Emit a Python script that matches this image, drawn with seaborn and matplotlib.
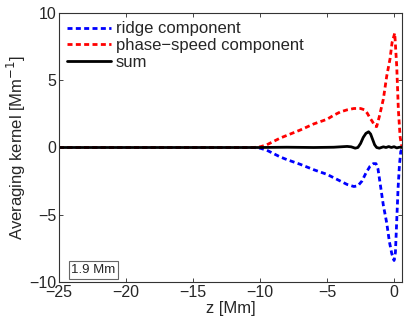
import numpy as np
import pandas as pd
import matplotlib
matplotlib.use('Agg')
import matplotlib.pyplot as plt
import seaborn as sns

# values
z_ridge = [-25, -20, -15, -10.5, -10, -9.5, -9, -8.5, -8, -7, -6, -5, -4.5, -4, -3.5, -3, -2.7,
           -2.4, -2.1, -1.8, -1.55, -1.35, -1.2, -1.05, -0.8, -0.55, -0.35, -0.17, 0.0,
           0.1, 0.2, 0.3, 0.4, 0.5, 0.6]
k_ridge = [0, 0, 0, 0, -0.05, -0.2, -0.45, -0.7, -0.9, -1.25, -1.65, -2.0, -2.25, -2.5, -2.75, -2.9, -2.85,
           -2.5, -1.9, -1.4, -1.2, -1.2, -1.6, -2.6, -4.3, -5.6, -7.0, -7.9, -8.4,
           -7.8, -5.4, -3.0, -1.3, -0.3, -0.1]

z_phase = [-25, -20, -15, -10.5, -10, -9.5, -9, -8.5, -8, -7, -6, -5, -4.5, -4, -3.5, -3, -2.5,
           -2.2, -2.0, -1.8, -1.6, -1.45, -1.3, -1.1, -0.8, -0.55, -0.3, -0.15, 0.05,
           0.2, 0.32, 0.45, 0.55, 0.6]
k_phase = [0, 0, 0, 0, 0.05, 0.2, 0.45, 0.7, 0.9, 1.3, 1.75, 2.1, 2.4, 2.65, 2.8, 2.9, 2.9,
           2.8, 2.55, 2.2, 1.9, 1.6, 1.55, 2.3, 3.6, 5.3, 6.6, 7.8, 8.5,
           6.0, 2.8, 0.8, 0.2, 0.1]

z_sum = [-25, -20, -15, -10, -8, -6, -4.5, -3.5, -3.2, -2.9, -2.7, -2.5, -2.3, -2.1, -1.9, -1.75,
         -1.6, -1.45, -1.3, -1.1, -0.8, -0.6, -0.4, -0.2, 0.0, 0.2, 0.4, 0.6]
k_sum = [0, 0, 0, 0, 0.02, 0.0, 0.02, 0.08, 0.05, -0.05, 0.0, 0.3, 0.75, 1.05, 1.17, 1.0,
         0.6, 0.2, 0.0, -0.05, 0.05, 0.0, 0.07, 0.0, 0.06, -0.03, 0.02, 0.0]

xticks = [-25, -20, -15, -10, -5, 0]
yticks = [-10, -5, 0, 5, 10]

sns.set_style('ticks')
plt.rcParams['font.family'] = ['Liberation Sans', 'DejaVu Sans']
plt.rcParams['xtick.direction'] = 'in'
plt.rcParams['ytick.direction'] = 'in'

fig = plt.figure(figsize=(4.07, 3.21), dpi=100)
ax = fig.add_axes([0.145, 0.1215, 0.843, 0.838])

sns.lineplot(x=z_ridge, y=k_ridge, ax=ax, color='#0000ff', lw=2, label='ridge component', sort=False)
sns.lineplot(x=z_phase, y=k_phase, ax=ax, color='#ff0000', lw=2, label='phase\u2212speed component', sort=False)
sns.lineplot(x=z_sum, y=k_sum, ax=ax, color='black', lw=2, label='sum', sort=False)
lines = ax.get_lines()
lines[0].set_dashes([1.8, 1.2])
lines[1].set_dashes([1.8, 1.2])

ax.set_xlim(-25, 0.6)
ax.set_ylim(-10, 10)
ax.set_xticks(xticks)
ax.set_yticks(yticks)
ax.set_xticklabels([str(t).replace('-', '\u2212') for t in xticks], fontsize=11.5)
ax.set_yticklabels([str(t).replace('-', '\u2212') for t in yticks], fontsize=11.5)
ax.tick_params(top=True, right=True, length=3, width=0.6, pad=2)
for s in ax.spines.values():
    s.set_linewidth(0.8)
    s.set_color('#333333')
ax.set_xlabel('z [Mm]', fontsize=12, labelpad=1)
ax.set_ylabel('Averaging kernel [Mm$^{-1}$]', fontsize=12, labelpad=1)

ax.legend(loc='upper left', frameon=False, fontsize=12, handlelength=2.6,
          handletextpad=0.3, labelspacing=0.1, borderaxespad=0.1, borderpad=0.4)

ax.text(0.036, 0.022, '1.9 Mm', transform=ax.transAxes, fontsize=9.5, va='bottom', ha='left',
        bbox=dict(boxstyle='square,pad=0.2', fc='white', ec='#666666', lw=0.8))

fig.savefig('out.png', dpi=100)
